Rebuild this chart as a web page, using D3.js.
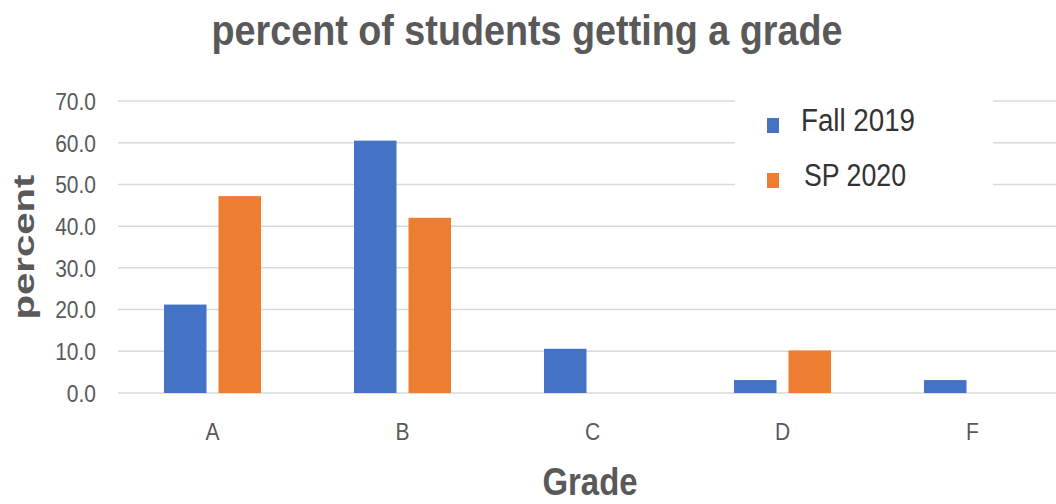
<!DOCTYPE html>
<html>
<head>
<meta charset="utf-8">
<script src="https://cdn.jsdelivr.net/npm/d3@7"></script>
<style>
  body { margin: 0; background: #fff; }
  text { font-family: "Liberation Sans", Arial, sans-serif; }
</style>
</head>
<body>
<svg width="1056" height="504"></svg>
<script>
'use strict'

// data
var grades = ["A", "B", "C", "D", "F"];
var seriesNames = ["Fall 2019", "SP 2020"];
var fall2019 = [21.2, 60.5, 10.6, 3.1, 3.1];
var sp2020 = [47.2, 42.0, 0, 10.2, 0];
var yTicks = [0, 10, 20, 30, 40, 50, 60, 70];

var colours = ["#4472C4", "#ED7D31"];

var svg = d3.select("svg");

// the reference is a bit stretched vertically, text is scaled to match
var stretch = 1.14;

var x = d3.scaleBand().domain(grades).range([117.5, 1067.5]).padding(0);
var xs = d3.scaleBand().domain(seriesNames).range([46.5, 143.5]).paddingInner(0.22).paddingOuter(0);
var y = d3.scaleLinear().domain([0, 70]).range([393, 101]);

var rows = grades.map(function(g, i) {
  return { grade: g, values: [fall2019[i], sp2020[i]] };
});

// gridlines
svg.append("g")
  .selectAll("line")
  .data(yTicks)
  .enter()
  .append("line")
  .attr("x1", 118)
  .attr("x2", 1056)
  .attr("y1", function(d) { return y(d); })
  .attr("y2", function(d) { return y(d); })
  .attr("stroke", "#d9d9d9")
  .attr("stroke-width", 1.5);

// bars
var groups = svg.append("g")
  .selectAll("g")
  .data(rows)
  .enter()
  .append("g")
  .attr("transform", function(d) { return "translate(" + x(d.grade) + ",0)"; });

groups.selectAll("rect")
  .data(function(d) { return d.values; })
  .enter()
  .append("rect")
  .attr("x", function(d, i) { return xs(seriesNames[i]); })
  .attr("width", xs.bandwidth())
  .attr("y", function(d) { return y(d); })
  .attr("height", function(d) { return y(0) - y(d); })
  .attr("fill", function(d, i) { return colours[i]; });

// y axis
var yAxis = d3.axisLeft(y).tickValues(yTicks).tickFormat(d3.format(".1f")).tickSize(0);
var gy = svg.append("g")
  .attr("transform", "translate(118,0)")
  .call(yAxis);
gy.select(".domain").remove();
gy.selectAll("text")
  .attr("x", -22)
  .attr("dy", "0.35em")
  .attr("transform", "scale(1," + stretch + ")")
  .attr("fill", "#595959")
  .style("font-size", "21px");

// x axis
var xAxis = d3.axisBottom(x).tickSize(0);
var gx = svg.append("g")
  .attr("transform", "translate(0,393)")
  .call(xAxis);
gx.select(".domain").remove();
gx.selectAll("text")
  .attr("y", 0)
  .attr("dy", 0)
  .attr("transform", "translate(0,47) scale(1," + stretch + ")")
  .attr("fill", "#595959")
  .style("font-size", "21px");

// helper for stretched text
function label(txt, px, py, size, len, opts) {
  opts = opts || {};
  var t = svg.append("text")
    .attr("transform", "translate(" + px + "," + py + ")" + (opts.rotate ? " rotate(-90)" : " scale(1," + (opts.k || stretch) + ")"))
    .attr("text-anchor", opts.anchor || "middle")
    .attr("fill", opts.fill || "#595959")
    .attr("font-weight", opts.bold ? "bold" : "normal")
    .style("font-size", size + "px")
    .attr("textLength", len)
    .attr("lengthAdjust", "spacingAndGlyphs")
    .text(txt);
  return t;
}

label("percent of students getting a grade", 527, 45, 37, 631, { bold: true, k: 1.15 });
label("percent", 34, 247, 29, 145, { bold: true, rotate: true });
label("Grade", 590, 495, 33, 95, { bold: true, k: 1.15 });

// legend
var legend = svg.append("g");
legend.append("rect")
  .attr("x", 735)
  .attr("y", 95)
  .attr("width", 258)
  .attr("height", 110)
  .attr("fill", "#fff");

var legendY = [118, 173];
var legendTextX = [801, 804];
var legendLen = [114, 102];
seriesNames.forEach(function(s, i) {
  legend.append("rect")
    .attr("x", 767)
    .attr("y", legendY[i])
    .attr("width", 12)
    .attr("height", 15)
    .attr("fill", colours[i]);
  label(s, legendTextX[i], legendY[i] + 13, 26, legendLen[i], { anchor: "start", fill: "#333", k: 1.2 });
});
</script>
</body>
</html>
